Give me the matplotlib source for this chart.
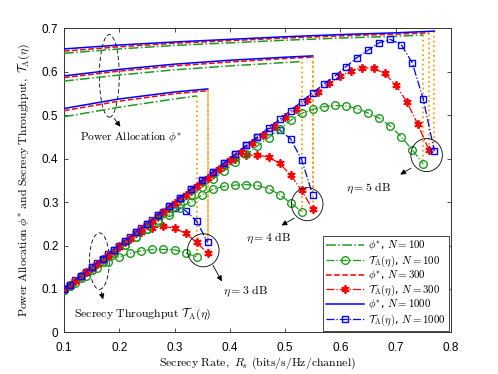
import matplotlib
matplotlib.use("Agg")
import matplotlib.pyplot as plt
from matplotlib.patches import Ellipse

plt.rcParams['mathtext.fontset'] = 'cm'

# ---------------- data ----------------
etas = ['3', '4', '5']
Ns = ['100', '300', '1000']

# secrecy throughput curves  T_A(eta), keyed by (eta, N)
x_t_e3_100 = [0.10, 0.12, 0.14, 0.16, 0.18, 0.20, 0.22, 0.24, 0.26, 0.28, 0.30, 0.32, 0.34]
y_t_e3_100 = [0.097, 0.114, 0.130, 0.148, 0.163, 0.174, 0.182, 0.188, 0.191, 0.191, 0.190, 0.183, 0.174]
x_t_e3_300 = [0.10, 0.12, 0.14, 0.16, 0.18, 0.20, 0.22, 0.24, 0.26, 0.28, 0.30, 0.32, 0.34, 0.36]
y_t_e3_300 = [0.099, 0.119, 0.139, 0.158, 0.177, 0.196, 0.215, 0.231, 0.240, 0.244, 0.240, 0.228, 0.207, 0.182]
x_t_e3_1000 = [0.10, 0.12, 0.14, 0.16, 0.18, 0.20, 0.22, 0.24, 0.26, 0.28, 0.30, 0.32, 0.34, 0.36]
y_t_e3_1000 = [0.100, 0.120, 0.140, 0.160, 0.180, 0.200, 0.220, 0.240, 0.259, 0.277, 0.287, 0.280, 0.256, 0.207]

x_t_e4_100 = [0.10, 0.11, 0.13, 0.15, 0.17, 0.19, 0.21, 0.23, 0.25, 0.27, 0.29, 0.31,
              0.33, 0.35, 0.37, 0.39, 0.41, 0.43, 0.45, 0.47, 0.49, 0.51, 0.53]
y_t_e4_100 = [0.097, 0.106, 0.125, 0.144, 0.163, 0.182, 0.201, 0.219, 0.237, 0.255, 0.271, 0.287,
              0.301, 0.316, 0.330, 0.336, 0.339, 0.340, 0.338, 0.331, 0.317, 0.298, 0.278]
x_t_e4_300 = [0.10, 0.11, 0.13, 0.15, 0.17, 0.19, 0.21, 0.23, 0.25, 0.27, 0.29, 0.31,
              0.33, 0.35, 0.37, 0.39, 0.41, 0.43, 0.45, 0.47, 0.49, 0.51, 0.53, 0.55]
y_t_e4_300 = [0.099, 0.109, 0.129, 0.149, 0.168, 0.188, 0.208, 0.228, 0.247, 0.267, 0.287, 0.306,
              0.326, 0.345, 0.364, 0.383, 0.398, 0.407, 0.408, 0.403, 0.389, 0.362, 0.327, 0.283]
x_t_e4_1000 = [0.10, 0.11, 0.13, 0.15, 0.17, 0.19, 0.21, 0.23, 0.25, 0.27, 0.29, 0.31,
               0.33, 0.35, 0.37, 0.39, 0.41, 0.43, 0.45, 0.47, 0.49, 0.51, 0.53, 0.55]
y_t_e4_1000 = [0.100, 0.110, 0.130, 0.150, 0.170, 0.190, 0.210, 0.230, 0.250, 0.270, 0.290, 0.310,
               0.330, 0.350, 0.370, 0.390, 0.410, 0.430, 0.449, 0.464, 0.466, 0.445, 0.397, 0.316]

x_t_e5_100 = [0.10, 0.11, 0.13, 0.15, 0.17, 0.19, 0.21, 0.23, 0.25, 0.27, 0.29, 0.31,
              0.33, 0.35, 0.37, 0.39, 0.41, 0.43, 0.45, 0.47, 0.49, 0.51, 0.53, 0.55,
              0.57, 0.59, 0.61, 0.63, 0.65, 0.67, 0.69, 0.71, 0.73, 0.75]
y_t_e5_100 = [0.097, 0.106, 0.125, 0.144, 0.163, 0.182, 0.201, 0.220, 0.239, 0.258, 0.277, 0.296,
              0.315, 0.334, 0.353, 0.372, 0.391, 0.410, 0.429, 0.448, 0.468, 0.488, 0.504, 0.513,
              0.519, 0.522, 0.521, 0.515, 0.505, 0.493, 0.475, 0.450, 0.420, 0.387]
x_t_e5_300 = [0.10, 0.12, 0.14, 0.16, 0.18, 0.20, 0.22, 0.24, 0.26, 0.28, 0.30, 0.32,
              0.34, 0.36, 0.38, 0.40, 0.42, 0.44, 0.46, 0.48, 0.50, 0.52, 0.54, 0.56,
              0.58, 0.60, 0.62, 0.64, 0.66, 0.68, 0.70, 0.72, 0.74, 0.76]
y_t_e5_300 = [0.099, 0.119, 0.139, 0.158, 0.178, 0.198, 0.218, 0.238, 0.257, 0.277, 0.297, 0.317,
              0.336, 0.356, 0.376, 0.396, 0.416, 0.435, 0.455, 0.475, 0.495, 0.515, 0.534, 0.554,
              0.573, 0.590, 0.602, 0.609, 0.607, 0.596, 0.569, 0.531, 0.479, 0.420]
x_t_e5_1000 = [0.10, 0.11, 0.13, 0.15, 0.17, 0.19, 0.21, 0.23, 0.25, 0.27, 0.29, 0.31,
               0.33, 0.35, 0.37, 0.39, 0.41, 0.43, 0.45, 0.47, 0.49, 0.51, 0.53, 0.55,
               0.57, 0.59, 0.61, 0.63, 0.65, 0.67, 0.69, 0.71, 0.73, 0.75, 0.77]
y_t_e5_1000 = [0.100, 0.110, 0.130, 0.150, 0.170, 0.190, 0.210, 0.230, 0.250, 0.270, 0.290, 0.310,
               0.330, 0.350, 0.370, 0.390, 0.410, 0.430, 0.450, 0.470, 0.490, 0.510, 0.531, 0.551,
               0.571, 0.590, 0.611, 0.632, 0.649, 0.666, 0.674, 0.662, 0.620, 0.536, 0.417]

# power allocation phi*
x_p_e3_100 = [0.10, 0.20, 0.30, 0.34]
y_p_e3_100 = [0.496, 0.518, 0.537, 0.544]
x_p_e3_300 = [0.10, 0.20, 0.30, 0.36]
y_p_e3_300 = [0.510, 0.532, 0.549, 0.556]
x_p_e3_1000 = [0.10, 0.20, 0.30, 0.36]
y_p_e3_1000 = [0.515, 0.537, 0.553, 0.560]

x_p_e4_100 = [0.10, 0.20, 0.30, 0.40, 0.53]
y_p_e4_100 = [0.578, 0.592, 0.604, 0.613, 0.623]
x_p_e4_300 = [0.10, 0.20, 0.30, 0.40, 0.50, 0.55]
y_p_e4_300 = [0.586, 0.601, 0.613, 0.622, 0.630, 0.633]
x_p_e4_1000 = [0.10, 0.20, 0.30, 0.40, 0.50, 0.55]
y_p_e4_1000 = [0.590, 0.605, 0.617, 0.626, 0.633, 0.636]

x_p_e5_100 = [0.10, 0.20, 0.30, 0.40, 0.50, 0.60, 0.70, 0.75]
y_p_e5_100 = [0.642, 0.652, 0.660, 0.666, 0.672, 0.677, 0.681, 0.684]
x_p_e5_300 = [0.10, 0.20, 0.30, 0.40, 0.50, 0.60, 0.70, 0.76]
y_p_e5_300 = [0.647, 0.657, 0.665, 0.671, 0.677, 0.682, 0.686, 0.689]
x_p_e5_1000 = [0.10, 0.20, 0.30, 0.40, 0.50, 0.60, 0.70, 0.77]
y_p_e5_1000 = [0.652, 0.661, 0.668, 0.674, 0.680, 0.685, 0.689, 0.693]

x_ticks = [0.1, 0.2, 0.3, 0.4, 0.5, 0.6, 0.7, 0.8]
y_ticks = [0, 0.1, 0.2, 0.3, 0.4, 0.5, 0.6, 0.7]
x_ticklabels = ['0.1', '0.2', '0.3', '0.4', '0.5', '0.6', '0.7', '0.8']
y_ticklabels = ['0', '0.1', '0.2', '0.3', '0.4', '0.5', '0.6', '0.7']

T = {('3', '100'): (x_t_e3_100, y_t_e3_100), ('3', '300'): (x_t_e3_300, y_t_e3_300),
     ('3', '1000'): (x_t_e3_1000, y_t_e3_1000),
     ('4', '100'): (x_t_e4_100, y_t_e4_100), ('4', '300'): (x_t_e4_300, y_t_e4_300),
     ('4', '1000'): (x_t_e4_1000, y_t_e4_1000),
     ('5', '100'): (x_t_e5_100, y_t_e5_100), ('5', '300'): (x_t_e5_300, y_t_e5_300),
     ('5', '1000'): (x_t_e5_1000, y_t_e5_1000)}
P = {('3', '100'): (x_p_e3_100, y_p_e3_100), ('3', '300'): (x_p_e3_300, y_p_e3_300),
     ('3', '1000'): (x_p_e3_1000, y_p_e3_1000),
     ('4', '100'): (x_p_e4_100, y_p_e4_100), ('4', '300'): (x_p_e4_300, y_p_e4_300),
     ('4', '1000'): (x_p_e4_1000, y_p_e4_1000),
     ('5', '100'): (x_p_e5_100, y_p_e5_100), ('5', '300'): (x_p_e5_300, y_p_e5_300),
     ('5', '1000'): (x_p_e5_1000, y_p_e5_1000)}

# ---------------- styles ----------------
col = {'100': '#1f9a1f', '300': '#ff0000', '1000': '#0000ff'}
p_ls = {'100': '-.', '300': '--', '1000': '-'}
t_mk = {'100': dict(marker='o', ms=5.5, mfc='none', mew=1.0),
        '300': dict(marker=(6, 2, 0), ms=6, mew=1.3),
        '1000': dict(marker='s', ms=5, mfc='none', mew=1.0)}
orange = '#f7a21b'

fig = plt.figure(figsize=(4.98, 3.74), dpi=100)
ax = fig.add_axes([0.1285, 0.111, 0.777, 0.814])

handles = {}
for e in etas:
    for n in Ns:
        xp, yp = P[(e, n)]
        xt, yt = T[(e, n)]
        ax.plot([xp[-1], xt[-1]], [yp[-1], yt[-1]], ls=':', color=orange, lw=1.3, zorder=1)
for e in etas:
    for n in Ns:
        xp, yp = P[(e, n)]
        xt, yt = T[(e, n)]
        lp, = ax.plot(xp, yp, ls=p_ls[n], color=col[n], lw=1.1, zorder=3)
        lt, = ax.plot(xt, yt, ls='-.', color=col[n], lw=0.9, zorder=3, **t_mk[n])
        handles[('p', n)] = lp
        handles[('t', n)] = lt

lab_p = r'$\phi^{*}$, $N = %s$'
lab_t = r'$\mathcal{T}_{\mathrm{A}}(\eta)$, $N = %s$'
hl, ll = [], []
for n in Ns:
    hl += [handles[('p', n)], handles[('t', n)]]
    ll += [lab_p % n, lab_t % n]
leg = ax.legend(hl, ll, loc='lower right', bbox_to_anchor=(0.995, 0.005), borderaxespad=0,
                fontsize=7.8, handlelength=3.5, fancybox=False, framealpha=1,
                edgecolor='#444444', labelspacing=0.0, borderpad=0.3, handletextpad=0.4)
leg.get_frame().set_linewidth(0.7)

# annotations
fs_ann = 8.5
ax.add_patch(Ellipse((0.182, 0.59), 0.036, 0.19, fill=False, ls=(0, (5, 3)), lw=0.6, color='k'))
ax.annotate('', xy=(0.205, 0.468), xytext=(0.188, 0.497),
            arrowprops=dict(arrowstyle='-|>', color='k', lw=0.6, mutation_scale=8))
ax.text(0.129, 0.447, r'$\mathrm{Power\ Allocation}\ \phi^{*}$', ha='left', va='center',
        fontsize=8.2)

ax.add_patch(Ellipse((0.164, 0.164), 0.036, 0.13, fill=False, ls=(0, (5, 3)), lw=0.6, color='k'))
ax.annotate('', xy=(0.172, 0.07), xytext=(0.166, 0.099),
            arrowprops=dict(arrowstyle='-|>', color='k', lw=0.6, mutation_scale=8))
ax.text(0.118, 0.042, r'$\mathrm{Secrecy\ Throughput}\ \mathcal{T}_{\mathrm{A}}(\eta)$',
        ha='left', va='center', fontsize=fs_ann)

circ = {'3': ((0.352, 0.189), (0.367, 0.160), (0.388, 0.112), (0.388, 0.094)),
        '4': ((0.540, 0.295), (0.521, 0.266), (0.489, 0.243), (0.430, 0.217)),
        '5': ((0.756, 0.408), (0.732, 0.381), (0.704, 0.360), (0.610, 0.331))}
for e in etas:
    c, a0, a1, tp = circ[e]
    ax.add_patch(Ellipse(c, 0.057, 0.076, fill=False, lw=0.6, color='k', zorder=4))
    ax.annotate('', xy=a1, xytext=a0,
                arrowprops=dict(arrowstyle='-|>', color='k', lw=0.6, mutation_scale=8))
    ax.text(tp[0], tp[1], r'$\eta = %s\ \mathrm{dB}$' % e, ha='left', va='center', fontsize=fs_ann)

ax.set_xlim(0.1, 0.8)
ax.set_ylim(0, 0.7)
ax.set_xticks(x_ticks)
ax.set_yticks(y_ticks)
ax.set_xticklabels(x_ticklabels, family='Liberation Sans')
ax.set_yticklabels(y_ticklabels, family='Liberation Sans')
ax.tick_params(direction='in', top=True, right=True, labelsize=8.5, length=3, width=0.6,
               color='#333333')
ax.tick_params(axis='x', pad=7)
ax.tick_params(axis='y', pad=4)
for s in ax.spines.values():
    s.set_linewidth(0.7)
    s.set_color('#333333')

ax.set_xlabel(r'$\mathrm{Secrecy\ Rate,}\ R_s\ \mathrm{(bits/s/Hz/channel)}$', fontsize=8.5)
ax.set_ylabel(r'$\mathrm{Power\ Allocation}\ \phi^{*}\ \mathrm{and\ Secrecy\ Throughput,}\ '
              r'\mathcal{T}_{\mathrm{A}}(\eta)$', fontsize=8.5)
ax.xaxis.set_label_coords(0.5, -0.075)
ax.yaxis.set_label_coords(-0.083, 0.5)

fig.savefig('out.png', dpi=100)
